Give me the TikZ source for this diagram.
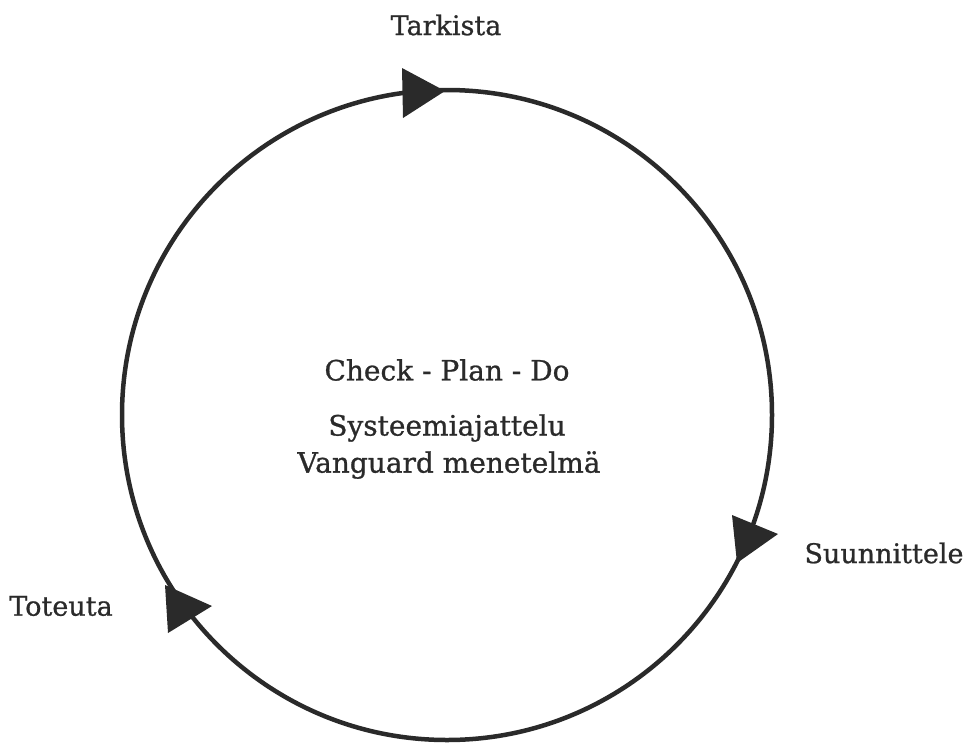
\documentclass[tikz,border=0pt]{standalone}
\usepackage{fontspec}
\setmainfont[FakeBold=0.9]{DejaVu Serif}
\definecolor{ink}{HTML}{2A2A2A}
\begin{document}
\begin{tikzpicture}[x=1pt,y=-1pt,
  ring/.style={draw=ink,line width=4.5pt},
  headtri/.style={fill=ink},
  lbl/.style={text=ink,font=\fontsize{27}{32}\selectfont,inner sep=0pt},
  mid/.style={text=ink,font=\fontsize{28}{33}\selectfont,inner sep=0pt}]
\useasboundingbox (0,0) rectangle (966,742);
% the cycle
\coordinate (c) at (447,415);
\draw[ring] (c) circle[radius=325];
% direction marks on the cycle
\fill[headtri] (402,68) -- (445,91) -- (403,118) -- cycle;
\fill[headtri] (732,515) -- (778,534) -- (737,563) -- cycle;
\fill[headtri] (165,585) -- (212,606) -- (168,633) -- cycle;
% phase labels
\node[lbl] (tarkista) at (446,25) {Tarkista};
\node[lbl] (suunnittele) at (884,553) {Suunnittele};
\node[lbl] (toteuta) at (61,606) {Toteuta};
% centre texts
\node[mid] (cpd) at (447,370) {Check - Plan - Do};
\node[mid] (systeemi) at (447,428) {Systeemiajattelu};
\node[mid] (vanguard) at (449,465) {Vanguard menetelmä};
\end{tikzpicture}
\end{document}
